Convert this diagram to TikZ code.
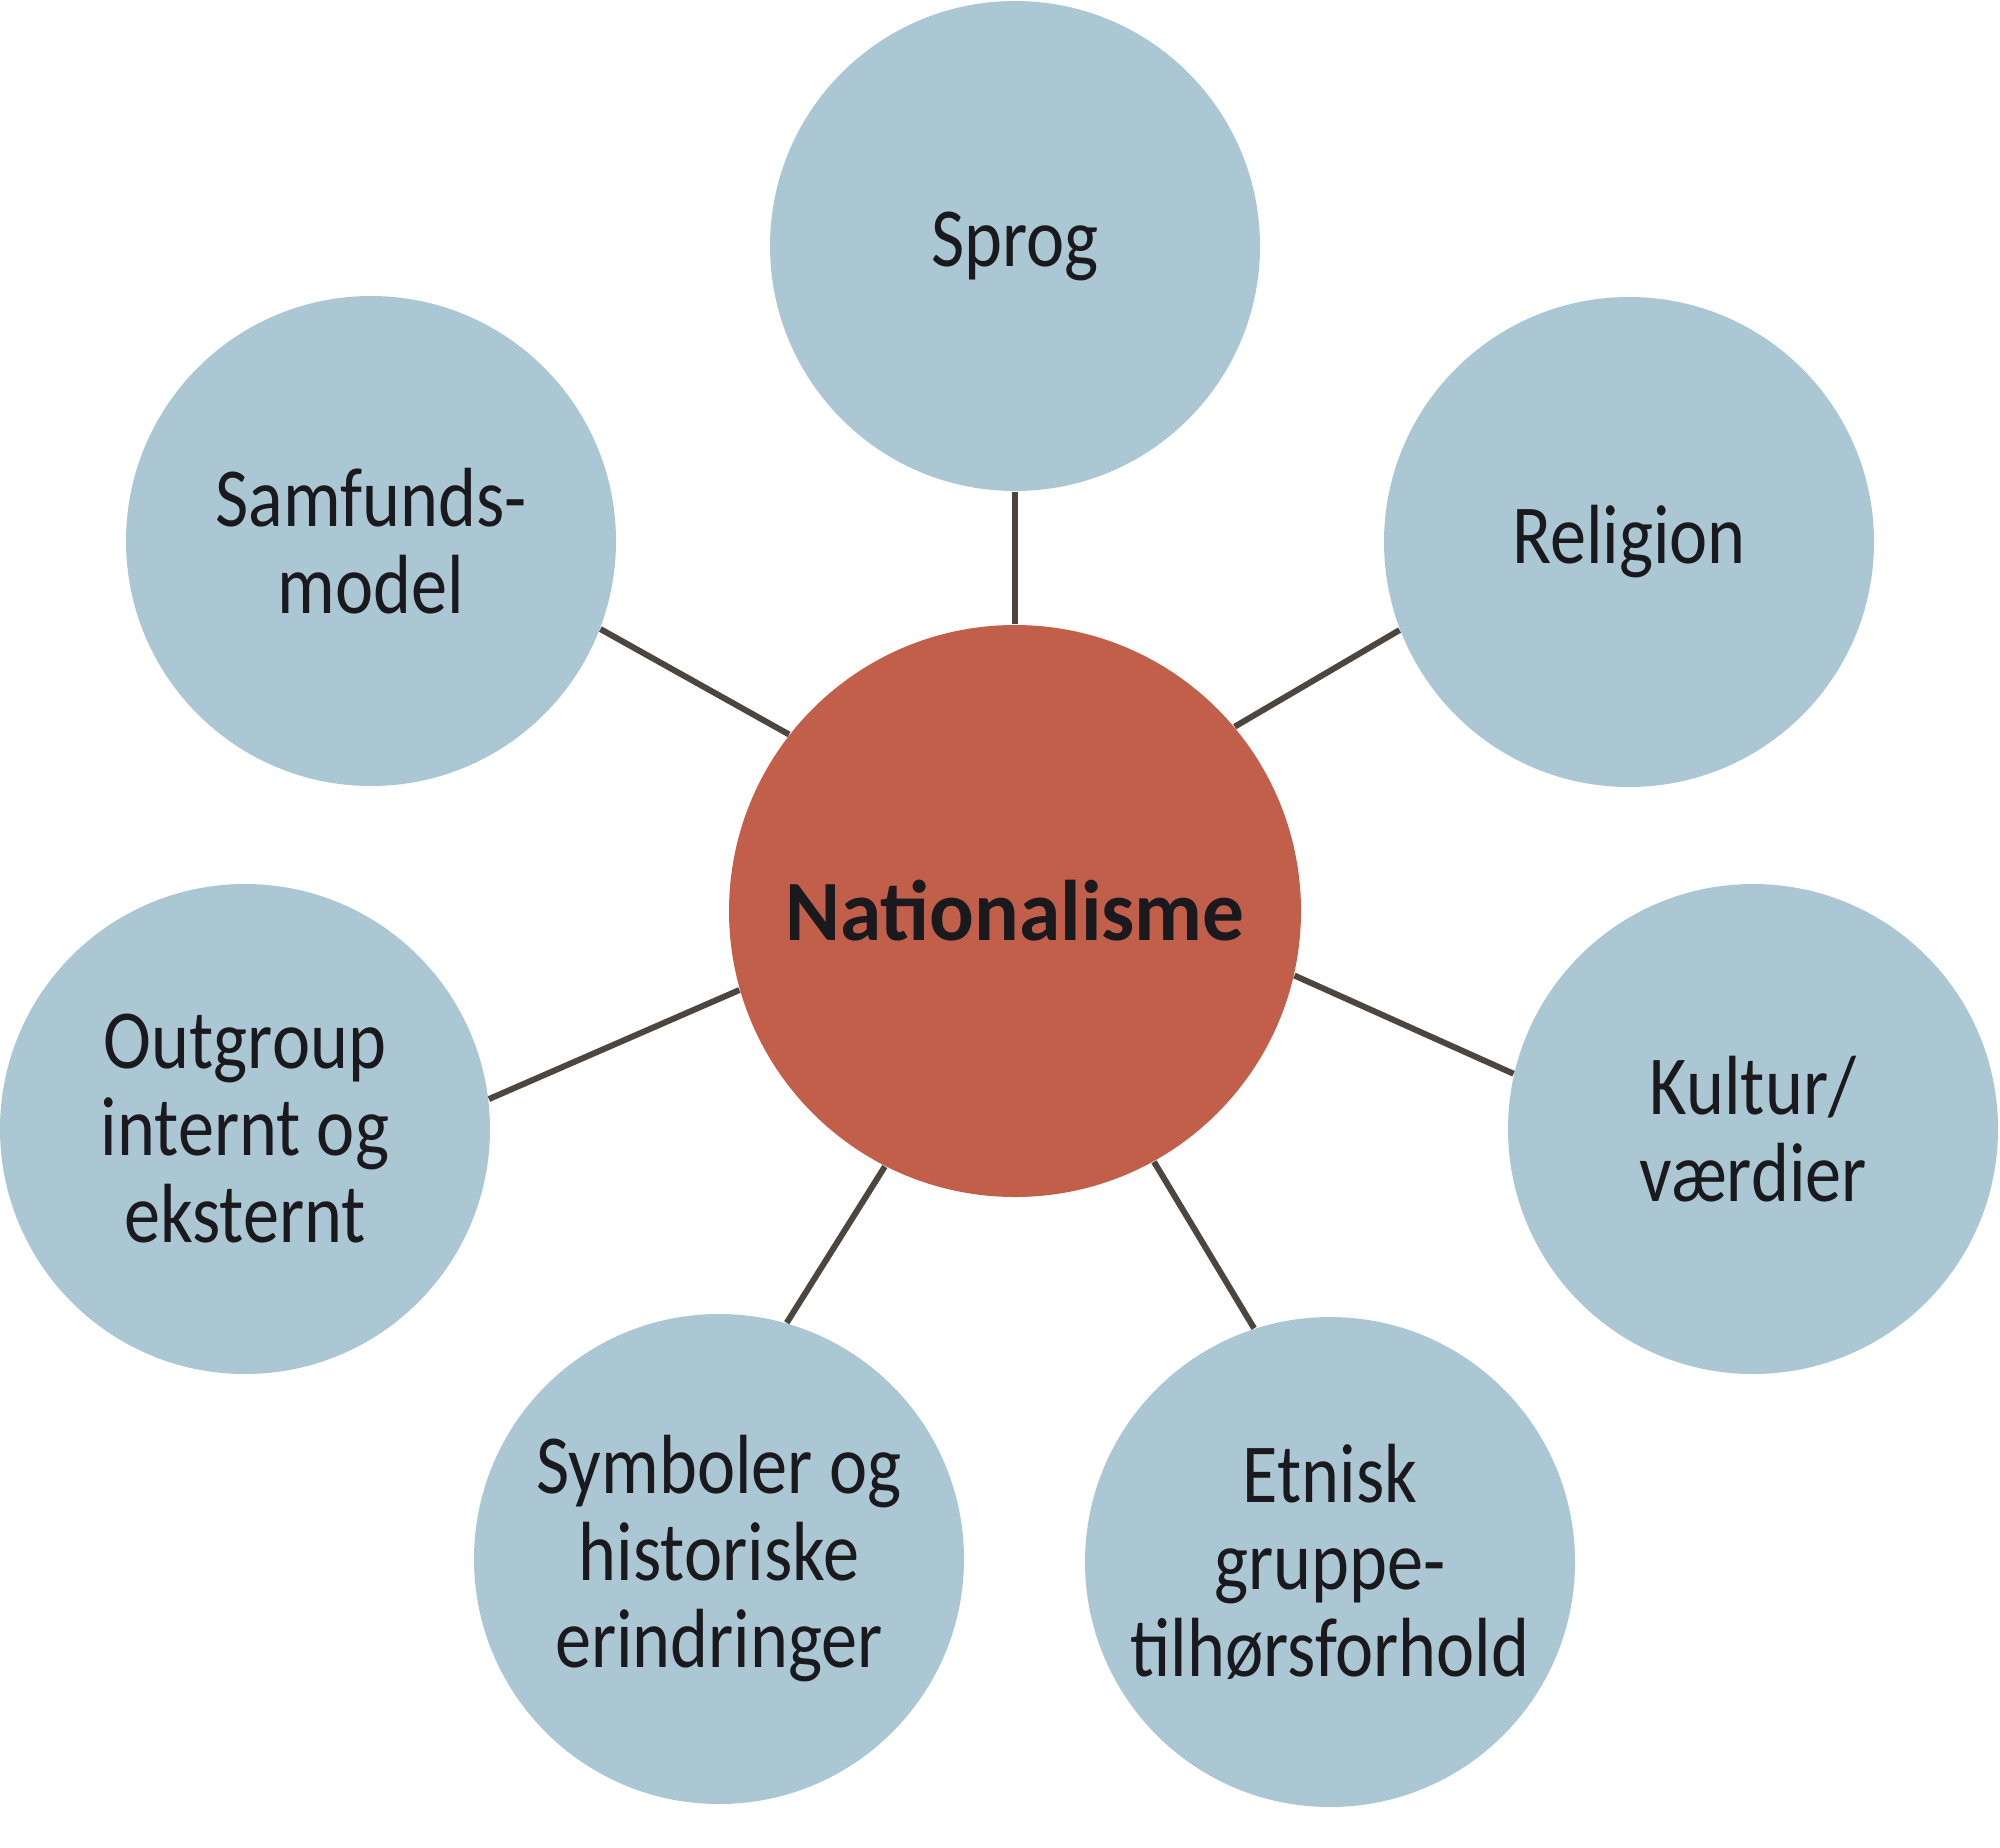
\documentclass[tikz,border=0pt]{standalone}
\usepackage{fontspec}
\setmainfont{Carlito}[FakeStretch=0.86]
\newfontfamily\hubfont{Carlito}[FakeStretch=0.97]
\usepackage{tikz}
\tikzset{every picture/.style={line width=0.75pt}}

\definecolor{bubblefill}{RGB}{172,199,212}
\definecolor{hubfill}{RGB}{194,95,75}
\definecolor{spokecol}{RGB}{77,70,63}
\definecolor{inkcol}{RGB}{26,26,30}

\tikzset{
  bubble/.style={circle, fill=bubblefill, minimum size=245pt, inner sep=0pt, align=center,
    text=inkcol, font=\fontsize{42}{43.5}\selectfont},
  hub/.style={circle, fill=hubfill, minimum size=286pt, inner sep=0pt, align=center,
    text=inkcol, font=\hubfont\bfseries\fontsize{43}{45}\selectfont},
  spoke/.style={draw=spokecol, line width=3pt}
}

\begin{document}
\begin{tikzpicture}[x=0.5pt,y=0.5pt,yscale=-1,xscale=1]
\useasboundingbox (0,0) rectangle (2000,1847);

%Shape: Circle (centre)
\node [hub] (nat) at (1015,911) {Nationalisme};

%Shape: Circle
\node [bubble] (sprog) at (1015,246) {Sprog};
%Shape: Circle
\node [bubble] (relig) at (1629,542) {Religion};
%Shape: Circle
\node [bubble] (kultur) at (1753,1129) {Kultur/\\værdier};
%Shape: Circle
\node [bubble] (etnisk) at (1330,1562) {Etnisk\\gruppe-\\tilhørsforhold};
%Shape: Circle
\node [bubble] (symbol) at (719,1559) {Symboler og\\historiske\\erindringer};
%Shape: Circle
\node [bubble] (outgr) at (245,1129) {Outgroup\\internt og\\eksternt};
%Shape: Circle
\node [bubble] (samf) at (371,541) {Samfunds-\\model};

%Straight Lines
\draw [spoke] (nat.90) -- (sprog.270);
\draw [spoke] (nat.40.5) -- (relig.201);
\draw [spoke] (nat.-13) -- (kultur.167);
\draw [spoke] (nat.-61) -- (etnisk.108);
\draw [spoke] (nat.-117) -- (symbol.74);
\draw [spoke] (nat.196) -- (outgr.7);
\draw [spoke] (nat.142) -- (samf.339);

\end{tikzpicture}
\end{document}
